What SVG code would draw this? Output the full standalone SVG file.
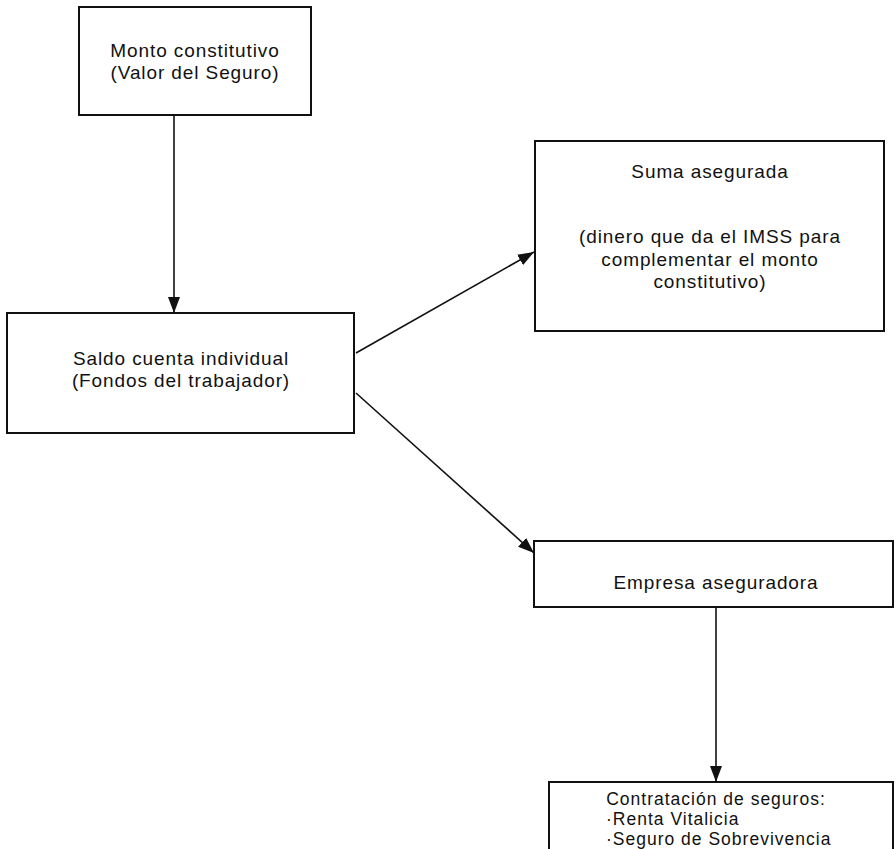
<svg xmlns="http://www.w3.org/2000/svg" width="896" height="849" viewBox="0 0 896 849">
<style>
.box{fill:#fff;stroke:#111;stroke-width:2}
.t{font-family:"Liberation Sans",Arial,sans-serif;font-size:19px;fill:#111;text-anchor:middle;letter-spacing:0.9px}
.s{font-family:"Liberation Sans",Arial,sans-serif;font-size:17.5px;fill:#111;letter-spacing:1px}
.c{stroke:#111;stroke-width:1.6;fill:none;marker-end:url(#ah)}
</style>
<defs>
<marker id="ah" markerWidth="16" markerHeight="12" refX="16" refY="6" orient="auto" markerUnits="userSpaceOnUse">
<path d="M0,0 L16,6 L0,12 Z" fill="#111"/>
</marker>
</defs>
<rect width="896" height="849" fill="#fff"/>
<g id="connectors">
<line class="c" x1="174" y1="116" x2="174" y2="313"/>
<line class="c" x1="356" y1="353" x2="534" y2="252"/>
<line class="c" x1="356" y1="393" x2="534" y2="553"/>
<line class="c" x1="716" y1="607" x2="716" y2="782"/>
</g>
<g id="monto">
<rect class="box" x="79" y="7" width="232" height="108"/>
<text class="t" x="195" y="57">Monto constitutivo</text>
<text class="t" x="195" y="79">(Valor del Seguro)</text>
</g>
<g id="saldo">
<rect class="box" x="7" y="313" width="347" height="120"/>
<text class="t" x="181" y="365">Saldo cuenta individual</text>
<text class="t" x="181" y="387">(Fondos del trabajador)</text>
</g>
<g id="suma">
<rect class="box" x="535" y="141" width="349" height="190"/>
<text class="t" x="710" y="178">Suma asegurada</text>
<text class="t" x="710" y="243">(dinero que da el IMSS para</text>
<text class="t" x="710" y="266">complementar el monto</text>
<text class="t" x="710" y="288">constitutivo)</text>
</g>
<g id="empresa">
<rect class="box" x="534" y="541" width="359" height="66"/>
<text class="t" x="716" y="589">Empresa aseguradora</text>
</g>
<g id="contratacion">
<rect class="box" x="549" y="782" width="344" height="80"/>
<text class="s" x="716" y="805" text-anchor="middle">Contratación de seguros:</text>
<text class="s" x="606" y="825">·Renta Vitalicia</text>
<text class="s" x="606" y="845">·Seguro de Sobrevivencia</text>
</g>
</svg>
